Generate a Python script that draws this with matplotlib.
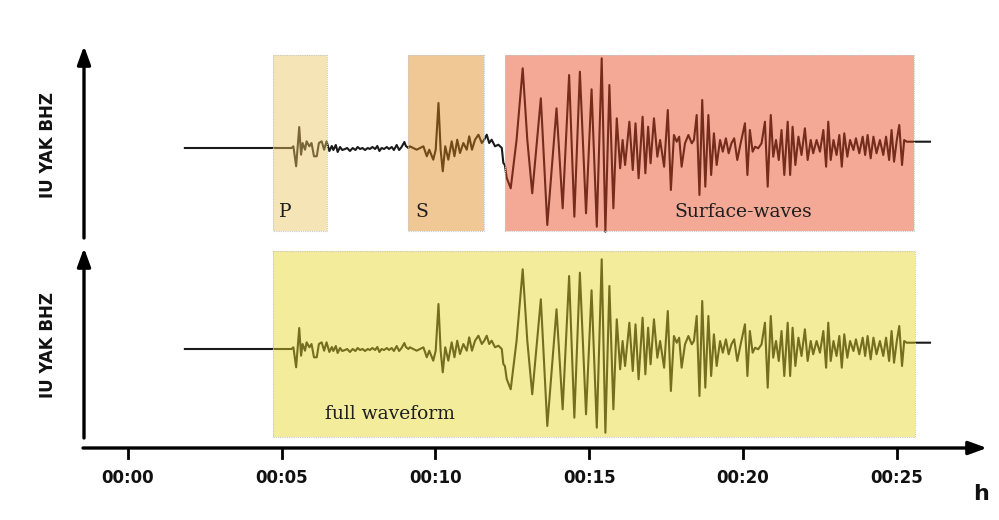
import matplotlib
matplotlib.use("Agg")
import matplotlib.pyplot as plt
from matplotlib.patches import Rectangle

# ---------------- data ----------------
station_label = "IU YAK BHZ"
tick_minutes = [0, 5, 10, 15, 20, 25]
tick_labels = ["00:00", "00:05", "00:10", "00:15", "00:20", "00:25"]
axis_unit = "h"

# phase windows (minutes)
window_names = ["P", "S", "Surface-waves"]
window_start = [4.72, 9.11, 12.26]
window_end = [6.47, 11.58, 25.57]
window_colors = ["#ebc55d", "#de8515", "#e7421a"]
full_name = "full waveform"
full_start, full_end = 4.72, 25.60
full_color = "#e5d623"

# seismogram samples (time in minutes, amplitude in counts)
time_min = [
    1.85, 5.32, 5.38, 5.47, 5.57, 5.63, 5.68, 5.76, 5.81, 5.90, 5.97, 6.05, 6.14,
    6.21, 6.30, 6.38, 6.46,
    6.55, 6.63, 6.68, 6.76, 6.82, 6.90, 6.97, 7.06, 7.13, 7.22, 7.31, 7.40, 7.47,
    7.55, 7.63, 7.71, 7.80, 7.87, 7.95, 8.04, 8.11, 8.18, 8.25, 8.33, 8.42, 8.49,
    8.58, 8.65, 8.74, 8.82, 8.90, 8.99, 9.04, 9.12,
    9.17, 9.39, 9.61, 9.72, 9.80, 9.93, 10.01, 10.10, 10.17, 10.24, 10.32, 10.42,
    10.53, 10.62, 10.71, 10.80, 10.91, 11.02, 11.10, 11.19, 11.29, 11.40, 11.51,
    11.59, 11.67, 11.75, 11.83, 11.94, 12.05, 12.16, 12.21, 12.26, 12.32,
    12.45, 12.64, 12.84, 12.99, 13.15, 13.43, 13.64, 13.94, 14.14, 14.35, 14.52,
    14.70, 14.90, 15.08, 15.25, 15.41, 15.53, 15.66, 15.79, 15.90, 16.01, 16.09,
    16.17, 16.31, 16.42, 16.51, 16.61, 16.74, 16.83, 16.92, 17.00, 17.11, 17.22,
    17.31, 17.44, 17.56, 17.66, 17.76, 17.85, 17.93, 18.01, 18.12, 18.23, 18.34,
    18.41, 18.50, 18.59, 18.68, 18.78, 18.88, 18.97, 19.06, 19.15, 19.26, 19.35,
    19.45, 19.54, 19.63, 19.72, 19.82, 19.93, 20.07, 20.15, 20.23, 20.32, 20.40,
    20.50, 20.61, 20.72, 20.81, 20.91, 20.99, 21.08, 21.17, 21.26, 21.35, 21.46,
    21.54, 21.62, 21.71, 21.81, 21.91, 22.02, 22.11, 22.21, 22.29, 22.40, 22.51,
    22.62, 22.71, 22.78, 22.86, 22.95, 23.05, 23.14, 23.22, 23.30, 23.40, 23.49,
    23.60, 23.68, 23.79, 23.90, 23.98, 24.06, 24.16, 24.25, 24.35, 24.46, 24.57,
    24.66, 24.76, 24.84, 24.92, 25.01, 25.09, 25.18, 25.25, 25.33, 26.09,
]
amplitude = [
    0, 0, 1.7, -18.3, 21, -6.7, 5, -1.7, 6.7, 1.7, 5, -8.3, -8.3,
    5, 6.7, -1.7, 6.7,
    -3, 2, -2, 3, -4, 1, -2, -1, 0, -3, 0, -2, 1,
    -1, 0, -2, 0, -1, 1, -1, 2, -3, 0, -1, 1, -1,
    1, -2, 3, -2, 1, 6, 2, 0,
    1.7, -1.7, 1.7, -8.3, -1.7, -11.7, -1.7, 45, -1.7, -23.3, 1.7, -11.7,
    6.7, -8.3, 8.3, -5, 5, -1.7, 11.7, -1.7, 8.3, 13.3, 5,
    8.3, 13.3, 5, 8.3, 1.7, 3.3, 0, -15, -17, -30,
    -40.3, 8, 79.7, 8, -45.3, 49.7, -77, 39.7, -60.3, 73, -68.7,
    76.3, -65.3, 58.7, -78.7, 89.7, -83.7, 63, -60.3, 29.7, -20.3, 8,
    -17, 26.3, -22, 24.7, -30.3, 31.3, -25.3, 21.3, -15.3, 29.7, -8.7,
    8, -18.7, 38, -42, 13, 6.3, 11.3, -18.7, 4.7, 13, 4.7,
    8, 33, -47, 48, -38.7, 33, -27, 14.7, -17, 8, -3.7,
    9.7, -5.3, 4.7, 9.7, -12, 4.7, 24.7, -27, 18, -3.7, 1.3,
    -0.3, 4.7, 26.3, -38.7, 33, -8.7, 8, -12, 18, -27, 26.3,
    -27, 21.3, -17, 11.3, -7, 19.7, -12, 8, -5.3, 8, -3.7,
    18, -18.7, 26.3, -12, 8, -7, 13, -18.7, 14.7, -8.7, 8,
    -2, 9.7, -5.3, 11.3, -7, 13, -10.3, 11.3, -5.3, 8, -7,
    11.3, -12, 18, -13.7, 8, 23, -17, 8, 6.3, 6.3,
]

# ---------------- layout ----------------
W, H = 999, 520
PX_PER_MIN = 30.74
X0_PX = 128
trace_base = [148, 349]          # baseline (pixels from top) of each trace
box_rows = [(55, 231), (251, 437)]
axis_y = 448

fig = plt.figure(figsize=(W / 100, H / 100), dpi=100)
ax = fig.add_axes([0, 0, 1, 1])
ax.set_xlim(-X0_PX / PX_PER_MIN, (W - X0_PX) / PX_PER_MIN)
ax.set_ylim(H, 0)
ax.axis("off")
fig.patch.set_facecolor("white")

ALPHA = 0.45


def px2t(px):
    return (px - X0_PX) / PX_PER_MIN


# traces
for base in trace_base:
    ax.plot(time_min, [base - a for a in amplitude], color="#1a1a1a",
            lw=1.5, zorder=2, solid_joinstyle="round")


# windows on top (translucent, tinting the trace)
def box(t0, t1, row, color):
    y0, y1 = row
    ax.add_patch(Rectangle((t0, y0), t1 - t0, y1 - y0, facecolor=color,
                           alpha=ALPHA, edgecolor="none", zorder=3))
    ax.add_patch(Rectangle((t0, y0), t1 - t0, y1 - y0, facecolor="none",
                           edgecolor="#c8c8c8", lw=0.8, ls=(0, (1, 1)), zorder=4))


for t0, t1, c in zip(window_start, window_end, window_colors):
    box(t0, t1, box_rows[0], c)
box(full_start, full_end, box_rows[1], full_color)

serif = ["DejaVu Serif"]
label_y = 212
txt = dict(family=serif, fontsize=13.5, va="center", color="#1e1e1e", zorder=5)
ax.text(px2t(279), label_y, window_names[0], ha="left", **txt)
ax.text(px2t(415), label_y, window_names[1], ha="left", **txt)
ax.text(px2t(743), label_y, window_names[2], ha="center", **txt)
ax.text(px2t(390), 414, full_name, ha="center", **txt)

# axes arrows
arrow = dict(arrowstyle="-|>,head_length=1.1,head_width=0.4", color="black",
             lw=2.4, shrinkA=0, shrinkB=0)
ax.annotate("", xy=(px2t(987), axis_y), xytext=(px2t(83), axis_y),
            arrowprops=arrow, zorder=6)
ax.annotate("", xy=(px2t(84), 46), xytext=(px2t(84), 238),
            arrowprops=arrow, zorder=6)
ax.annotate("", xy=(px2t(84), 248), xytext=(px2t(84), 438),
            arrowprops=arrow, zorder=6)

for t, lab in zip(tick_minutes, tick_labels):
    ax.plot([t, t], [axis_y, axis_y + 10], color="black", lw=2, zorder=6)
    ax.text(t, 478, lab, ha="center", va="center", fontsize=12,
            fontweight="bold", color="#111111")

ax.text(px2t(981), 494, axis_unit, ha="center", va="center", fontsize=16,
        fontweight="bold", color="#111111")

for yc in (145, 345):
    ax.text(px2t(48), yc, station_label, rotation=90, ha="center", va="center",
            fontsize=12, fontweight="bold", color="#111111")

fig.savefig("out.png", dpi=100, facecolor="white")
